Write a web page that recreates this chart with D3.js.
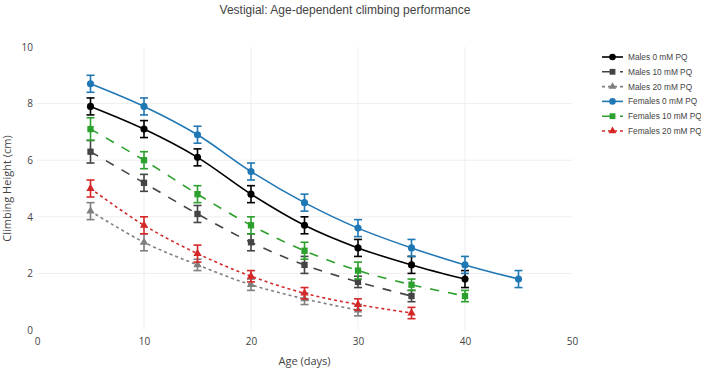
<!DOCTYPE html>
<html>
<head>
<meta charset="utf-8">
<script src="https://cdn.jsdelivr.net/npm/d3@7"></script>
<style>
  body { margin: 0; background: #fff; }
</style>
</head>
<body>
<div id="app"></div>
<script>
// ages sampled (days)
const ages = [5, 10, 15, 20, 25, 30, 35, 40, 45];

const males0 = [7.9, 7.1, 6.1, 4.8, 3.7, 2.9, 2.3, 1.8];
const males0Err = [0.3, 0.3, 0.3, 0.3, 0.3, 0.3, 0.3, 0.3];
const males10 = [6.3, 5.2, 4.1, 3.1, 2.3, 1.7, 1.2];
const males10Err = [0.4, 0.3, 0.3, 0.3, 0.3, 0.2, 0.2];
const males20 = [4.2, 3.1, 2.3, 1.6, 1.1, 0.7];
const males20Err = [0.3, 0.3, 0.2, 0.2, 0.2, 0.2];
const females0 = [8.7, 7.9, 6.9, 5.6, 4.5, 3.6, 2.9, 2.3, 1.8];
const females0Err = [0.3, 0.3, 0.3, 0.3, 0.3, 0.3, 0.3, 0.3, 0.3];
const females10 = [7.1, 6.0, 4.8, 3.7, 2.8, 2.1, 1.6, 1.2];
const females10Err = [0.4, 0.3, 0.3, 0.3, 0.3, 0.3, 0.2, 0.2];
const females20 = [5.0, 3.7, 2.7, 1.9, 1.3, 0.9, 0.6];
const females20Err = [0.3, 0.3, 0.3, 0.2, 0.2, 0.2, 0.2];

const seriesNames = ["Males 0 mM PQ", "Males 10 mM PQ", "Males 20 mM PQ",
                     "Females 0 mM PQ", "Females 10 mM PQ", "Females 20 mM PQ"];
const xTicks = [0, 10, 20, 30, 40, 50];
const yTicks = [0, 2, 4, 6, 8, 10];

const series = [
  { name: seriesNames[0], y: males0, err: males0Err, color: "#000000", dash: null, sym: "circle" },
  { name: seriesNames[1], y: males10, err: males10Err, color: "#444444", dash: "9,9", sym: "square" },
  { name: seriesNames[2], y: males20, err: males20Err, color: "#7f7f7f", dash: "3,3", sym: "triangle" },
  { name: seriesNames[3], y: females0, err: females0Err, color: "#1f77b4", dash: null, sym: "circle" },
  { name: seriesNames[4], y: females10, err: females10Err, color: "#2ca02c", dash: "9,9", sym: "square" },
  { name: seriesNames[5], y: females20, err: females20Err, color: "#d62728", dash: "3,3", sym: "triangle" }
];

const w = 701;
const h = 373;
const mLeft = 37, mRight = 572, mTop = 47, mBottom = 330;

const svg = d3.select("#app")
  .append("svg")
  .attr("width", w)
  .attr("height", h);

const x = d3.scaleLinear().domain([0, 50]).range([mLeft, mRight]);
const y = d3.scaleLinear().domain([0, 10]).range([mBottom, mTop]);

// gridlines
svg.append("g")
  .selectAll("line")
  .data(xTicks.slice(1, -1))
  .enter()
  .append("line")
  .attr("x1", d => x(d)).attr("x2", d => x(d))
  .attr("y1", mTop).attr("y2", mBottom)
  .attr("stroke", "#eee").attr("stroke-width", 1);

svg.append("g")
  .selectAll("line")
  .data(yTicks.slice(1, -1))
  .enter()
  .append("line")
  .attr("x1", mLeft).attr("x2", mRight)
  .attr("y1", d => y(d)).attr("y2", d => y(d))
  .attr("stroke", "#eee").attr("stroke-width", 1);

// axes (labels only)
const xAxis = svg.append("g")
  .attr("transform", "translate(0," + (mBottom + 2) + ")")
  .call(d3.axisBottom(x).tickValues(xTicks).tickSize(0).tickPadding(6));
const yAxis = svg.append("g")
  .attr("transform", "translate(" + (mLeft - 2) + ",0)")
  .call(d3.axisLeft(y).tickValues(yTicks).tickSize(0).tickPadding(2));
[xAxis, yAxis].forEach(g => {
  g.select(".domain").remove();
  g.selectAll("text")
    .attr("font-family", "'Open Sans', sans-serif")
    .attr("font-size", "10px")
    .attr("fill", "#444");
});

svg.append("text")
  .attr("x", (mLeft + mRight) / 2)
  .attr("y", 365)
  .attr("text-anchor", "middle")
  .attr("font-family", "'Open Sans', sans-serif")
  .attr("font-size", "11px")
  .attr("fill", "#444")
  .text("Age (days)");

svg.append("text")
  .attr("transform", "translate(11," + ((mTop + mBottom) / 2) + ") rotate(-90)")
  .attr("text-anchor", "middle")
  .attr("font-family", "'Open Sans', sans-serif")
  .attr("font-size", "11px")
  .attr("fill", "#444")
  .text("Climbing Height (cm)");

svg.append("text")
  .attr("x", 345)
  .attr("y", 14)
  .attr("text-anchor", "middle")
  .attr("font-family", "'Liberation Sans', Arial, sans-serif")
  .attr("font-size", "12px")
  .attr("fill", "#444")
  .text("Vestigial: Age-dependent climbing performance");

const line = d3.line()
  .x((d, i) => x(ages[i]))
  .y(d => y(d))
  .curve(d3.curveCatmullRom.alpha(0.5));

function symbolPath(sym, size) {
  const t = sym === "circle" ? d3.symbolCircle : sym === "square" ? d3.symbolSquare : d3.symbolTriangle;
  return d3.symbol().type(t).size(size)();
}

series.forEach(s => {
  const g = svg.append("g");
  g.append("path")
    .datum(s.y)
    .attr("d", line)
    .attr("fill", "none")
    .attr("stroke", s.color)
    .attr("stroke-width", 1.6)
    .attr("stroke-dasharray", s.dash);

  // error bars
  const eb = g.selectAll(".eb")
    .data(s.y)
    .enter()
    .append("g");
  eb.append("line")
    .attr("x1", (d, i) => x(ages[i])).attr("x2", (d, i) => x(ages[i]))
    .attr("y1", (d, i) => y(d - s.err[i])).attr("y2", (d, i) => y(d + s.err[i]))
    .attr("stroke", s.color).attr("stroke-width", 1.6);
  eb.append("line")
    .attr("x1", (d, i) => x(ages[i]) - 4).attr("x2", (d, i) => x(ages[i]) + 4)
    .attr("y1", (d, i) => y(d - s.err[i])).attr("y2", (d, i) => y(d - s.err[i]))
    .attr("stroke", s.color).attr("stroke-width", 1.6);
  eb.append("line")
    .attr("x1", (d, i) => x(ages[i]) - 4).attr("x2", (d, i) => x(ages[i]) + 4)
    .attr("y1", (d, i) => y(d + s.err[i])).attr("y2", (d, i) => y(d + s.err[i]))
    .attr("stroke", s.color).attr("stroke-width", 1.6);

  g.selectAll(".pt")
    .data(s.y)
    .enter()
    .append("path")
    .attr("d", symbolPath(s.sym, s.sym === "triangle" ? 30 : 40))
    .attr("transform", (d, i) => "translate(" + x(ages[i]) + "," + y(d) + ")")
    .attr("fill", s.color);
});

// legend
const legend = svg.append("g")
  .selectAll("g")
  .data(series)
  .enter()
  .append("g")
  .attr("transform", (d, i) => "translate(602," + (57 + i * 14.8) + ")");
legend.append("line")
  .attr("x1", 0).attr("x2", 21)
  .attr("stroke", d => d.color)
  .attr("stroke-width", 1.6)
  .attr("stroke-dasharray", d => d.dash);
legend.append("path")
  .attr("d", d => symbolPath(d.sym, d.sym === "triangle" ? 26 : 34))
  .attr("transform", "translate(10.5,0)")
  .attr("fill", d => d.color);
legend.append("text")
  .attr("x", 26)
  .attr("y", 3)
  .attr("font-family", "'Liberation Sans', Arial, sans-serif")
  .attr("font-size", "8.3px")
  .attr("fill", "#444")
  .text(d => d.name);
</script>
</body>
</html>
